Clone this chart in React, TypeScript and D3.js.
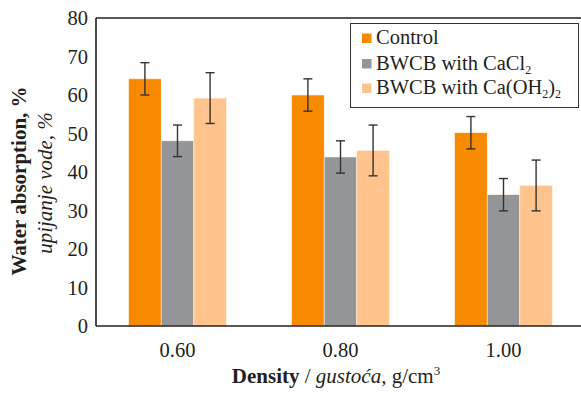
import { useEffect, useRef } from 'react'
import * as d3 from 'd3'

const densities = ['0.60', '0.80', '1.00']
const seriesNames = ['control', 'cacl2', 'caoh2']
const seriesColors = ['#f88a00', '#939598', '#ffc48e']
const controlVals = [64.2, 60.0, 50.2]
const controlErr = [4.2, 4.2, 4.2]
const cacl2Vals = [48.1, 43.9, 34.1]
const cacl2Err = [4.1, 4.2, 4.2]
const caoh2Vals = [59.2, 45.6, 36.5]
const caoh2Err = [6.6, 6.6, 6.6]
const yTicks = [0, 10, 20, 30, 40, 50, 60, 70, 80]

const FONT = 'Liberation Serif'

export default function App() {
  const ref = useRef<SVGSVGElement>(null)

  useEffect(() => {
    if (!ref.current) return
    const svg = d3.select(ref.current)
    svg.selectAll('*').remove()

    const width = 581
    const left = 96, top = 18, bottom = 326, right = 585

    const x = d3.scaleBand().domain(densities).range([left, right]).paddingInner(0.4).paddingOuter(0.2)
    const xs = d3.scaleBand().domain(seriesNames).range([0, x.bandwidth()])
    const y = d3.scaleLinear().domain([0, 80]).range([bottom, top])

    const vals = [controlVals, cacl2Vals, caoh2Vals]
    const errs = [controlErr, cacl2Err, caoh2Err]

    const g = svg.append('g').style('font-family', FONT).attr('fill', '#231f20')

    // bars
    seriesNames.forEach((s, si) => {
      densities.forEach((d, di) => {
        const bx = x(d)! + xs(s)!
        g.append('rect')
          .attr('x', bx).attr('y', y(vals[si][di]))
          .attr('width', xs.bandwidth())
          .attr('height', y(0) - y(vals[si][di]))
          .attr('fill', seriesColors[si])
          .attr('stroke', '#fff3e6').attr('stroke-width', 0.6)
      })
    })

    // error bars
    seriesNames.forEach((s, si) => {
      densities.forEach((d, di) => {
        const cx = x(d)! + xs(s)! + xs.bandwidth() / 2
        const hi = y(vals[si][di] + errs[si][di])
        const lo = y(vals[si][di] - errs[si][di])
        const eg = g.append('g').attr('stroke', '#333').attr('stroke-width', 1.4)
        eg.append('line').attr('x1', cx).attr('x2', cx).attr('y1', hi).attr('y2', lo)
        eg.append('line').attr('x1', cx - 4.5).attr('x2', cx + 4.5).attr('y1', hi).attr('y2', hi)
        eg.append('line').attr('x1', cx - 4.5).attr('x2', cx + 4.5).attr('y1', lo).attr('y2', lo)
      })
    })

    // axes lines
    g.append('line').attr('x1', left).attr('x2', width).attr('y1', top).attr('y2', top)
      .attr('stroke', '#231f20').attr('stroke-width', 1.3)
    g.append('line').attr('x1', left).attr('x2', left).attr('y1', top).attr('y2', bottom)
      .attr('stroke', '#231f20').attr('stroke-width', 1.6)
    g.append('line').attr('x1', left).attr('x2', width).attr('y1', bottom).attr('y2', bottom)
      .attr('stroke', '#231f20').attr('stroke-width', 1.6)

    // y ticks
    yTicks.forEach(t => {
      g.append('text')
        .attr('x', 88).attr('y', y(t) + 7)
        .attr('text-anchor', 'end')
        .attr('font-size', 20.5)
        .text(t)
    })

    // x ticks
    densities.forEach(d => {
      g.append('text')
        .attr('x', x(d)! + x.bandwidth() / 2).attr('y', 357)
        .attr('text-anchor', 'middle')
        .attr('font-size', 20.5)
        .text(d)
    })

    // x title
    const xt = g.append('text')
      .attr('x', 336).attr('y', 383)
      .attr('text-anchor', 'middle')
      .attr('font-size', 21)
    xt.append('tspan').attr('font-weight', 'bold').text('Density')
    xt.append('tspan').text(' / ')
    xt.append('tspan').attr('font-style', 'italic').text('gustoća,')
    xt.append('tspan').text(' g/cm')
    xt.append('tspan').attr('font-size', 13).attr('dy', -8).text('3')

    // y titles
    g.append('text')
      .attr('transform', `translate(26,181) rotate(-90)`)
      .attr('text-anchor', 'middle')
      .attr('font-size', 21).attr('font-weight', 'bold')
      .text('Water absorption, %')
    g.append('text')
      .attr('transform', `translate(52,183) rotate(-90)`)
      .attr('text-anchor', 'middle')
      .attr('font-size', 21).attr('font-style', 'italic')
      .text('upijanje vode, %')

    // legend
    const lg = g.append('g')
    lg.append('rect').attr('x', 350.5).attr('y', 23.5).attr('width', 228).attr('height', 84)
      .attr('fill', '#fff').attr('stroke', '#333').attr('stroke-width', 1)
    const baselines = [44, 69.5, 94]
    baselines.forEach((by, i) => {
      lg.append('rect').attr('x', 362).attr('y', by - 10.5).attr('width', 9.5).attr('height', 9.5)
        .attr('fill', seriesColors[i])
      const t = lg.append('text').attr('x', 376).attr('y', by)
        .attr('font-size', 20.5)
      if (i === 0) t.text('Control')
      if (i === 1) {
        t.append('tspan').text('BWCB with CaCl')
        t.append('tspan').attr('font-size', 12).attr('dy', 4).text('2')
      }
      if (i === 2) {
        t.append('tspan').text('BWCB with Ca(OH')
        t.append('tspan').attr('font-size', 12).attr('dy', 4).text('2')
        t.append('tspan').attr('dy', -4).text(')')
        t.append('tspan').attr('font-size', 12).attr('dy', 4).text('2')
      }
    })
  }, [])

  return (
    <div style={{ position: 'absolute', left: 0, top: 0 }}>
      <svg ref={ref} width={581} height={396} style={{ display: 'block', background: '#fff' }} />
    </div>
  )
}
